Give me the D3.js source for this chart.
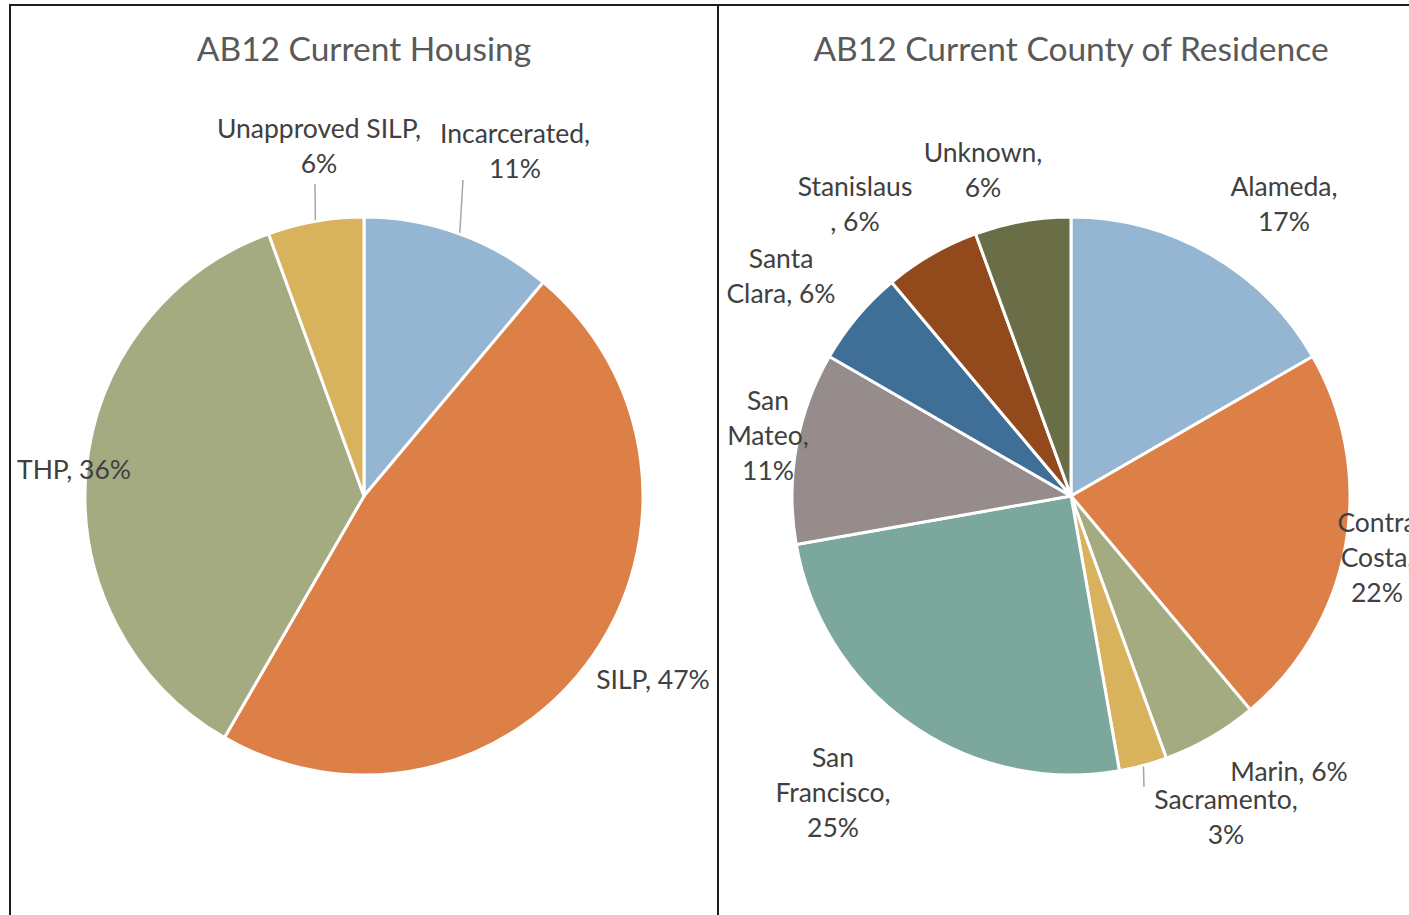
<!DOCTYPE html>
<html><head><meta charset="utf-8">
<script src="https://cdn.jsdelivr.net/npm/d3@7"></script>
<style>html,body{margin:0;padding:0;background:#fff;}svg{display:block;}</style>
</head><body>
<svg id="chart" width="1409" height="915"></svg>
<script>
// ---- data ----
const housingTitle = "AB12 Current Housing";
const housingCategories = ["Incarcerated", "SILP", "THP", "Unapproved SILP"];
const housingCounts = [4, 17, 13, 2];
const housingColors = ["#94b6d2", "#dd8047", "#a5ab81", "#d8b25c"];

const countyTitle = "AB12 Current County of Residence";
const countyCategories = ["Alameda", "Contra Costa", "Marin", "Sacramento", "San Francisco", "San Mateo", "Santa Clara", "Stanislaus", "Unknown"];
const countyCounts = [6, 8, 2, 1, 9, 4, 2, 2, 2];
const countyColors = ["#94b6d2", "#dd8047", "#a5ab81", "#d8b25c", "#7ba79d", "#968c8c", "#3f6f97", "#92491b", "#696e47"];

// ---- layout (label placement relative to pie centre) ----
const housingLayout = [
  {dx: 151, y: -353, br: [13], lead: [99, -316]},
  {dx: 289, y: 193, br: []},
  {dx: -290, y: -17, br: []},
  {dx: -45, y: -358, br: [16], lead: [-49, -312]}
];
const countyLayout = [
  {dx: 213, y: -300, br: [8]},
  {dx: 306, y: 36, br: [6, 13]},
  {dx: 218, y: 285, br: []},
  {dx: 155, y: 313, br: [11], lead: [73, 291]},
  {dx: -238, y: 271, br: [3, 14]},
  {dx: -303, y: -86, br: [3, 10]},
  {dx: -290, y: -228, br: [5]},
  {dx: -216, y: -300, br: [10]},
  {dx: -88, y: -334, br: [8]}
];

const svg = d3.select("#chart");
const FONT = "Lato, 'Open Sans', sans-serif";
const R = 279, LINE = 35;

// panel borders
svg.append("rect").attr("x", 10).attr("y", 5).attr("width", 708).attr("height", 960)
  .attr("fill", "none").attr("stroke", "#1e1e1e").attr("stroke-width", 2);
svg.append("rect").attr("x", 718).attr("y", 5).attr("width", 800).attr("height", 960)
  .attr("fill", "none").attr("stroke", "#1e1e1e").attr("stroke-width", 2);

function drawPie(cx, cy, title, cats, counts, colors, layout) {
  const total = d3.sum(counts);
  const g = svg.append("g").attr("transform", `translate(${cx},${cy})`);
  const pie = d3.pie().sort(null).value(d => d.v);
  const data = cats.map((c, i) => ({c, v: counts[i], color: colors[i], lay: layout[i]}));
  const arcs = pie(data);
  const arc = d3.arc().innerRadius(0).outerRadius(R);
  g.selectAll("path.slice").data(arcs).join("path")
    .attr("class", "slice")
    .attr("d", arc)
    .attr("fill", d => d.data.color)
    .attr("stroke", "#fff").attr("stroke-width", 3).attr("stroke-linejoin", "round");

  // leader lines
  arcs.filter(d => d.data.lay.lead).forEach(d => {
    const a = (d.startAngle + d.endAngle) / 2;
    const p = [Math.sin(a) * (R + 1), -Math.cos(a) * (R + 1)];
    g.append("line").attr("x1", p[0]).attr("y1", p[1])
      .attr("x2", d.data.lay.lead[0]).attr("y2", d.data.lay.lead[1])
      .attr("stroke", "#a6a6a6").attr("stroke-width", 1.5);
  });

  // labels
  arcs.forEach(d => {
    const pct = Math.round(d.data.v / total * 100);
    const label = `${d.data.c}, ${pct}%`;
    const cuts = [0, ...d.data.lay.br, label.length];
    const lines = [];
    for (let i = 0; i < cuts.length - 1; i++) lines.push(label.slice(cuts[i], cuts[i + 1]).trim());
    const t = g.append("text")
      .attr("x", d.data.lay.dx).attr("y", d.data.lay.y)
      .attr("text-anchor", "middle")
      .attr("font-family", FONT).attr("font-size", 26.5).attr("fill", "#404040");
    lines.forEach((ln, i) => {
      t.append("tspan").attr("x", d.data.lay.dx).attr("y", d.data.lay.y + i * LINE).text(ln);
    });
  });

  svg.append("text").attr("x", cx).attr("y", 61).attr("text-anchor", "middle")
    .attr("font-family", FONT).attr("font-size", 33.5).attr("fill", "#595959").text(title);
}

drawPie(364, 496, housingTitle, housingCategories, housingCounts, housingColors, housingLayout);
drawPie(1071, 496, countyTitle, countyCategories, countyCounts, countyColors, countyLayout);
</script>
</body></html>
